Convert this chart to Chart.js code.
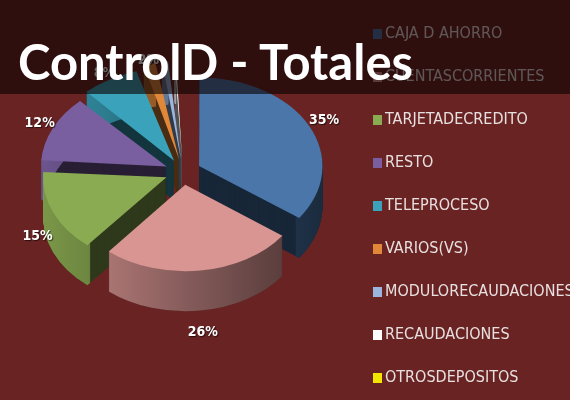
<!DOCTYPE html>
<html>
<head>
<meta charset="utf-8">
<script src="https://cdn.jsdelivr.net/npm/chart.js@4.4.1/dist/chart.umd.min.js"></script>
<style>
  html, body { margin: 0; padding: 0; background: #6a2323; }
  #wrap { position: relative; width: 570px; height: 400px; overflow: hidden; }
  #wrap canvas { position: absolute; left: 0; top: 0; }
  #legend { position: absolute; left: 373px; top: 0; margin: 0; padding: 0; list-style: none;
    font-family: "Liberation Sans Narrow", "DejaVu Sans Condensed", sans-serif; font-size: 16px; color: #e8e0e0; }
  #legend li { position: absolute; white-space: nowrap; height: 20px; line-height: 20px; }
  #legend span { display: inline-block; width: 9px; height: 10px; margin-right: 3px; vertical-align: -1px; }
  #band { position: absolute; left: 0; top: 0; width: 570px; height: 94px; background: rgba(12, 2, 2, 0.62); }
  #title { position: absolute; left: 18px; top: 31px; margin: 0; color: #fff;
    font-family: Lato, "Open Sans", sans-serif; font-weight: bold; font-size: 49px; line-height: 60px; }
</style>
</head>
<body>
<div id="wrap">
  <canvas id="pie" width="570" height="400"></canvas>
  <ul id="legend"></ul>
  <div id="band"></div>
  <h1 id="title">ControlD - Totales</h1>
</div>
<script>
// ControlD - Totales: torta 3D con porciones separadas

const categorias = ['CAJA D AHORRO', 'CUENTASCORRIENTES', 'TARJETADECREDITO', 'RESTO', 'TELEPROCESO',
  'VARIOS(VS)', 'MODULORECAUDACIONES', 'RECAUDACIONES', 'OTROSDEPOSITOS'];
const totales = [35, 26, 15, 12, 7.5, 2, 1.3, 0.8, 0.4];
const colores = ['#4a76aa', '#d89592', '#8aab52', '#7a5fa0', '#3aa2ba', '#e0873a', '#9ab5de', '#ffffff', '#f2e600'];

// geometría de la torta
const TILT = 0.72;
const DEPTH = 40;

function oscurecer(hex, f) {
  const n = parseInt(hex.slice(1), 16);
  const r = Math.round(((n >> 16) & 255) * f);
  const g = Math.round(((n >> 8) & 255) * f);
  const b = Math.round((n & 255) * f);
  return `rgb(${r},${g},${b})`;
}

const torta3d = {
  id: 'torta3d',
  beforeDatasetsDraw(chart) {
    const ctx = chart.ctx;
    const arcs = chart.getDatasetMeta(0).data;
    const cx = arcs[0].x, cy = arcs[0].y;
    const R = arcs[0].outerRadius;
    const conTilt = (dy) => {
      ctx.translate(0, dy);
      ctx.translate(cx, cy);
      ctx.scale(1, TILT);
      ctx.translate(-cx, -cy);
    };
    const dibujar = (arc, color, dy, inner) => {
      const o = arc.options, ir = arc.innerRadius;
      arc.options = { ...o, backgroundColor: color };
      if (inner) arc.innerRadius = inner;
      ctx.save();
      conTilt(dy);
      arc.draw(ctx);
      ctx.restore();
      arc.options = o;
      arc.innerRadius = ir;
    };
    // caras de corte (oscuras)
    for (let d = DEPTH; d >= 1; d--) {
      arcs.forEach((arc, i) => dibujar(arc, oscurecer(colores[i], 0.33), d));
    }
    // pared exterior con luz desde la izquierda
    const grads = colores.map((c) => {
      const g = ctx.createLinearGradient(cx - R - 20, 0, cx + R + 20, 0);
      g.addColorStop(0, oscurecer(c, 0.92));
      g.addColorStop(0.5, oscurecer(c, 0.62));
      g.addColorStop(1, oscurecer(c, 0.33));
      return g;
    });
    for (let d = DEPTH; d >= 1; d--) {
      arcs.forEach((arc, i) => dibujar(arc, grads[i], d, arc.outerRadius * 0.96));
    }
    // cara superior
    arcs.forEach((arc) => {
      ctx.save();
      conTilt(0);
      arc.draw(ctx);
      ctx.restore();
    });
    // etiquetas
    const total = totales.reduce((a, b) => a + b, 0);
    ctx.save();
    ctx.font = 'bold 14px "Liberation Sans Narrow", "DejaVu Sans Condensed", sans-serif';
    ctx.fillStyle = '#ffffff';
    ctx.textAlign = 'center';
    ctx.textBaseline = 'middle';
    ctx.shadowColor = 'rgba(0,0,0,0.6)';
    ctx.shadowOffsetX = 1;
    ctx.shadowOffsetY = 1;
    ctx.shadowBlur = 1;
    arcs.forEach((arc, i) => {
      const pct = Math.round(totales[i] / total * 100);
      if (pct < 2) return;
      const mid = (arc.startAngle + arc.endAngle) / 2;
      const r = arc.outerRadius * 1.32;
      const dx = Math.cos(mid), dy = Math.sin(mid);
      const x = cx + r * dx;
      const y = cy + r * dy * TILT + (dy > 0 ? dy * DEPTH * 1.2 : 0);
      ctx.fillText(pct + '%', x, y);
    });
    ctx.restore();
    return false;
  }
};

const chart = new Chart(document.getElementById('pie'), {
  type: 'pie',
  data: {
    labels: categorias,
    datasets: [{
      data: totales,
      backgroundColor: colores,
      borderWidth: 0,
      offset: 72,
      clip: false
    }]
  },
  options: {
    responsive: false,
    animation: false,
    layout: { padding: { left: 27, right: 231, top: 16, bottom: 72 } },
    plugins: {
      legend: { display: false },
      tooltip: { enabled: false }
    }
  },
  plugins: [torta3d]
});

// Leyenda
const legend = document.getElementById('legend');
categorias.forEach((c, i) => {
  const li = document.createElement('li');
  li.style.top = (23 + 43 * i) + 'px';
  const sq = document.createElement('span');
  sq.style.background = colores[i];
  li.appendChild(sq);
  li.appendChild(document.createTextNode(c));
  legend.appendChild(li);
});
</script>
</body>
</html>
